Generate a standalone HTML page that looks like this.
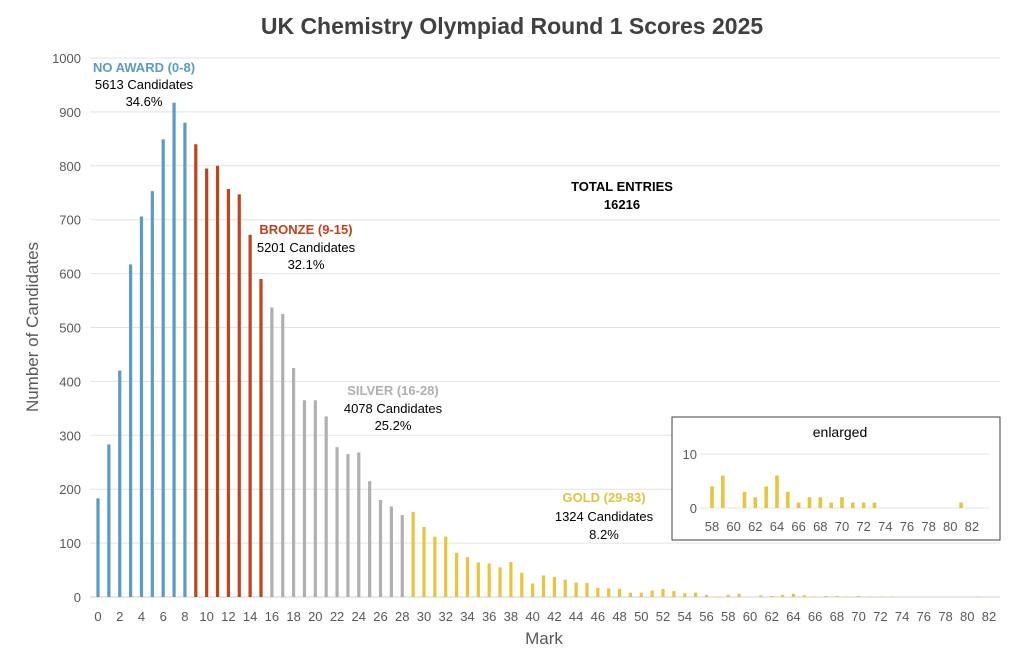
<!DOCTYPE html>
<html><head><meta charset="utf-8"><style>
body{margin:0;background:#fff;}
svg{display:block;font-family:"Liberation Sans",sans-serif;}
</style></head><body>
<svg id="s" width="1024" height="668" xmlns="http://www.w3.org/2000/svg">
<rect width="1024" height="668" fill="#fff"/>
<text x="512" y="34" text-anchor="middle" font-size="23" font-weight="bold" fill="#404040">UK Chemistry Olympiad Round 1 Scores 2025</text>
<g id="grid"></g>
<g id="bars"></g>
<text transform="translate(38,327) rotate(-90)" text-anchor="middle" font-size="17" fill="#595959">Number of Candidates</text>
<text x="544" y="644" text-anchor="middle" font-size="17" fill="#595959">Mark</text>
<g font-size="13" text-anchor="middle">
<text x="144" y="72" fill="#5b9bc8" font-weight="bold">NO AWARD (0-8)</text>
<text x="144" y="89" fill="#000">5613 Candidates</text>
<text x="144" y="106" fill="#000">34.6%</text>
<text x="306" y="234" fill="#c0431b" font-weight="bold">BRONZE (9-15)</text>
<text x="306" y="252" fill="#000">5201 Candidates</text>
<text x="306" y="269" fill="#000">32.1%</text>
<text x="393" y="395" fill="#b0b0b0" font-weight="bold">SILVER (16-28)</text>
<text x="393" y="413" fill="#000">4078 Candidates</text>
<text x="393" y="430" fill="#000">25.2%</text>
<text x="604" y="502" fill="#e0c440" font-weight="bold">GOLD (29-83)</text>
<text x="604" y="521" fill="#000">1324 Candidates</text>
<text x="604" y="539" fill="#000">8.2%</text>
<text x="622" y="191" fill="#000" font-weight="bold">TOTAL ENTRIES</text>
<text x="622" y="209" fill="#000" font-weight="bold">16216</text>
</g>
<rect x="672" y="417" width="328" height="123" fill="#fff" stroke="#404040" stroke-width="1"/>
<text x="840" y="437" text-anchor="middle" font-size="14" fill="#000">enlarged</text>
<g id="inset"></g>
</svg>
<script>
var NS="http://www.w3.org/2000/svg";
function el(p,t,a,txt){var e=document.createElementNS(NS,t);for(var k in a)e.setAttribute(k,a[k]);if(txt!=null)e.textContent=txt;document.getElementById(p).appendChild(e);}
var y0=597,py=0.539,x0=98,dx=10.866;
for(var v=0;v<=1000;v+=100){var y=y0-v*py;
 if(v>0)el("grid","line",{x1:90,x2:1000,y1:y,y2:y,stroke:"#e3e3e3","stroke-width":1});
 el("grid","text",{x:81,y:y+5,"text-anchor":"end","font-size":13,fill:"#595959"},v);}
el("grid","line",{x1:90,x2:1000,y1:y0,y2:y0,stroke:"#d0d0d0","stroke-width":1});
for(var m=0;m<=82;m+=2)el("grid","text",{x:x0+m*dx,y:621,"text-anchor":"middle","font-size":13,fill:"#595959"},m);
var d=[183,283,420,617,706,753,849,917,880,840,795,800,757,747,672,590,537,525,425,365,365,335,278,265,268,215,180,168,152,158,130,112,112,82,74,64,62,55,65,45,25,40,37,32,27,26,17,16,15,8,8,12,15,11,7,8,4,1,4,6,0,3,2,4,6,3,1,2,2,1,2,1,1,1,0,0,0,0,0,0,0,1,0,0];
for(var i=0;i<d.length;i++){if(!d[i])continue;var c=i<=8?"#5b9bc8":i<=15?"#c0431b":i<=28?"#b0b0b0":"#e8c53a";
 el("bars","rect",{x:x0+i*dx-1.6,y:y0-d[i]*py,width:3.2,height:d[i]*py,fill:c});}
var iy0=508,ipy=5.4,ix0=712,idx=10.83;
el("inset","line",{x1:700,x2:990,y1:iy0-10*ipy,y2:iy0-10*ipy,stroke:"#e3e3e3"});
el("inset","line",{x1:700,x2:990,y1:iy0,y2:iy0,stroke:"#e3e3e3"});
el("inset","text",{x:697,y:iy0-10*ipy+5,"text-anchor":"end","font-size":13,fill:"#595959"},10);
el("inset","text",{x:697,y:iy0+5,"text-anchor":"end","font-size":13,fill:"#595959"},0);
for(var m=58;m<=82;m+=2)el("inset","text",{x:ix0+(m-58)*idx,y:531,"text-anchor":"middle","font-size":13,fill:"#595959"},m);
for(var i=58;i<=82;i++){if(!d[i])continue;el("inset","rect",{x:ix0+(i-58)*idx-1.8,y:iy0-d[i]*ipy,width:3.6,height:d[i]*ipy,fill:"#e8c53a"});}
</script>
</body></html>
